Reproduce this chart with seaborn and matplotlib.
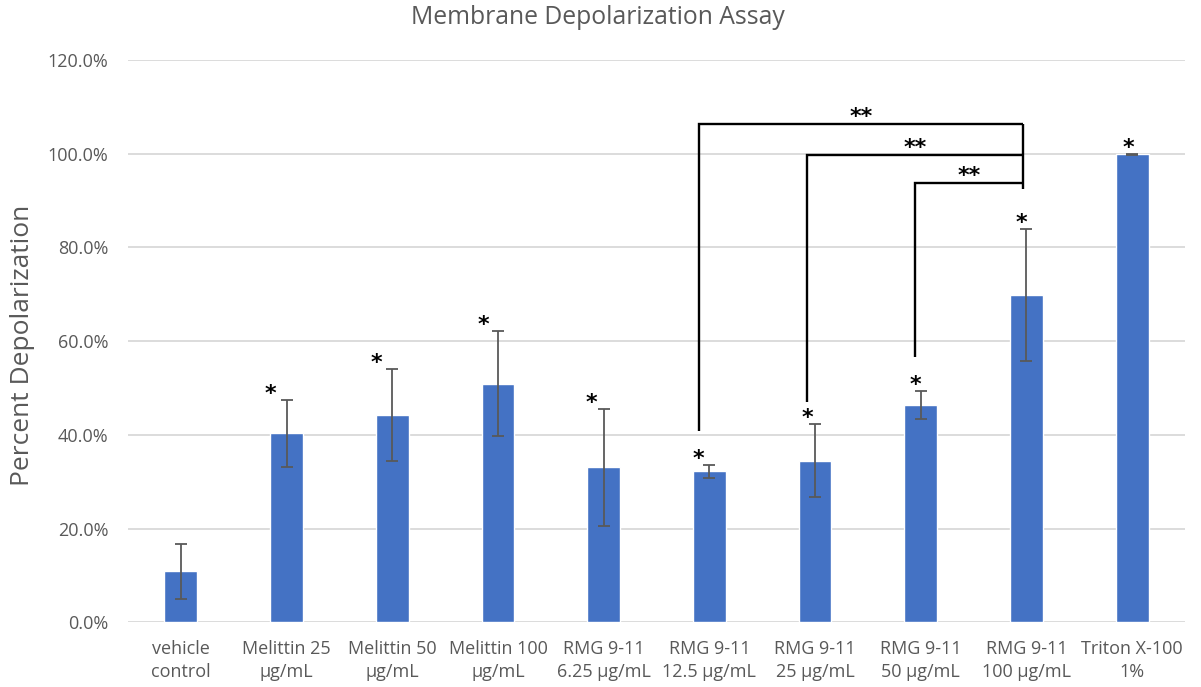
import matplotlib
matplotlib.use("Agg")
import matplotlib.pyplot as plt
import seaborn as sns
import pandas as pd
import numpy as np
from matplotlib.ticker import PercentFormatter, MultipleLocator

# ---- data ----
categories = ["vehicle\ncontrol", "Melittin 25\nµg/mL", "Melittin 50\nµg/mL",
              "Melittin 100\nµg/mL", "RMG 9-11\n6.25 µg/mL", "RMG 9-11\n12.5 µg/mL",
              "RMG 9-11\n25 µg/mL", "RMG 9-11\n50 µg/mL", "RMG 9-11\n100 µg/mL",
              "Triton X-100\n1%"]
means = [0.109, 0.403, 0.443, 0.509, 0.331, 0.322, 0.345, 0.463, 0.698, 0.999]
errors = [0.059, 0.072, 0.098, 0.112, 0.125, 0.0135, 0.078, 0.030, 0.141, 0.001]
significant = [False, True, True, True, True, True, True, True, True, True]
star_dx = [0.0, -0.156, -0.154, -0.142, -0.118, -0.10, -0.076, -0.052, -0.045, -0.036]
# comparisons: (left bar, right bar, bracket height, left end bottom)
brackets = [(5, 8, 1.064, 0.409), (6, 8, 0.997, 0.470), (7, 8, 0.938, 0.566)]
bracket_labels = ["**", "**", "**"]
bracket_right_bottom = 0.925
title = "Membrane Depolarization Assay"
ylabel = "Percent Depolarization"

# ---- style ----
sns.set_theme(style="white")
plt.rcParams['font.family'] = ['Open Sans', 'DejaVu Sans']
text_col = '#595959'
star_font = dict(family=['DejaVu Sans'], fontsize=16, fontweight='bold', color='black')

W, H = 1201, 687
fig = plt.figure(figsize=(W / 100, H / 100), dpi=100)
left, right, bottom, top = 128, 1185, 622.3, 60
ax = fig.add_axes([left / W, 1 - bottom / H, (right - left) / W, (bottom - top) / H])

df = pd.DataFrame({"label": categories, "value": means})
sns.barplot(data=df, x="label", y="value", color="#4472C4", width=0.31,
            saturation=1, errorbar=None, ax=ax, zorder=3)
xs = np.arange(len(categories))
ax.errorbar(xs, means, yerr=errors, fmt='none', ecolor=text_col, elinewidth=1.3,
            capsize=4.5, capthick=1.3, zorder=4)

ax.set_xlim(-0.5, len(categories) - 0.5)
ax.set_ylim(0, 1.2)
ax.yaxis.set_major_locator(MultipleLocator(0.2))
ax.yaxis.set_major_formatter(PercentFormatter(1, decimals=1))
ax.grid(axis='y', color='#D9D9D9', linewidth=1.3, zorder=0)
ax.grid(axis='x', visible=False)
ax.set_axisbelow(True)
for s in ax.spines.values():
    s.set_visible(False)
ax.tick_params(axis='both', length=0, labelsize=13, colors=text_col)
ax.tick_params(axis='x', pad=13)
ax.tick_params(axis='y', pad=14)
for lab in ax.get_xticklabels():
    lab.set_linespacing(1.3)
ax.set_xlabel("")
ax.set_ylabel("")

# significance stars
for i, (m, e, sig) in enumerate(zip(means, errors, significant)):
    if sig:
        ax.annotate("*", xy=(i + star_dx[i], m + e), xytext=(0, 0),
                    textcoords='offset points', ha='center', va='baseline',
                    zorder=5, **star_font)

# brackets
for (a, b, yb, ya), lab in zip(brackets, bracket_labels):
    xa = a + star_dx[a]
    xb = b + star_dx[b] + 0.01
    ax.plot([xa, xa, xb], [ya, yb, yb], color='black', lw=1.7, zorder=5,
            solid_capstyle='butt', solid_joinstyle='miter')
    ax.annotate(lab, xy=((xa + xb) / 2, yb), xytext=(0, 0.7),
                textcoords='offset points', ha='center', va='baseline', **star_font)
xr = brackets[0][1] + star_dx[brackets[0][1]] + 0.01
ax.plot([xr, xr], [max(b[2] for b in brackets), bracket_right_bottom],
        color='black', lw=1.7, zorder=5, solid_capstyle='butt')

fig.text(598 / W, 1 - 18 / H, title, ha='center', va='center', fontsize=17.8, color=text_col)
fig.text(23 / W, 1 - 345 / H, ylabel, ha='center', va='center', rotation=90,
         fontsize=19, color=text_col)

fig.savefig("out.png", dpi=100)
